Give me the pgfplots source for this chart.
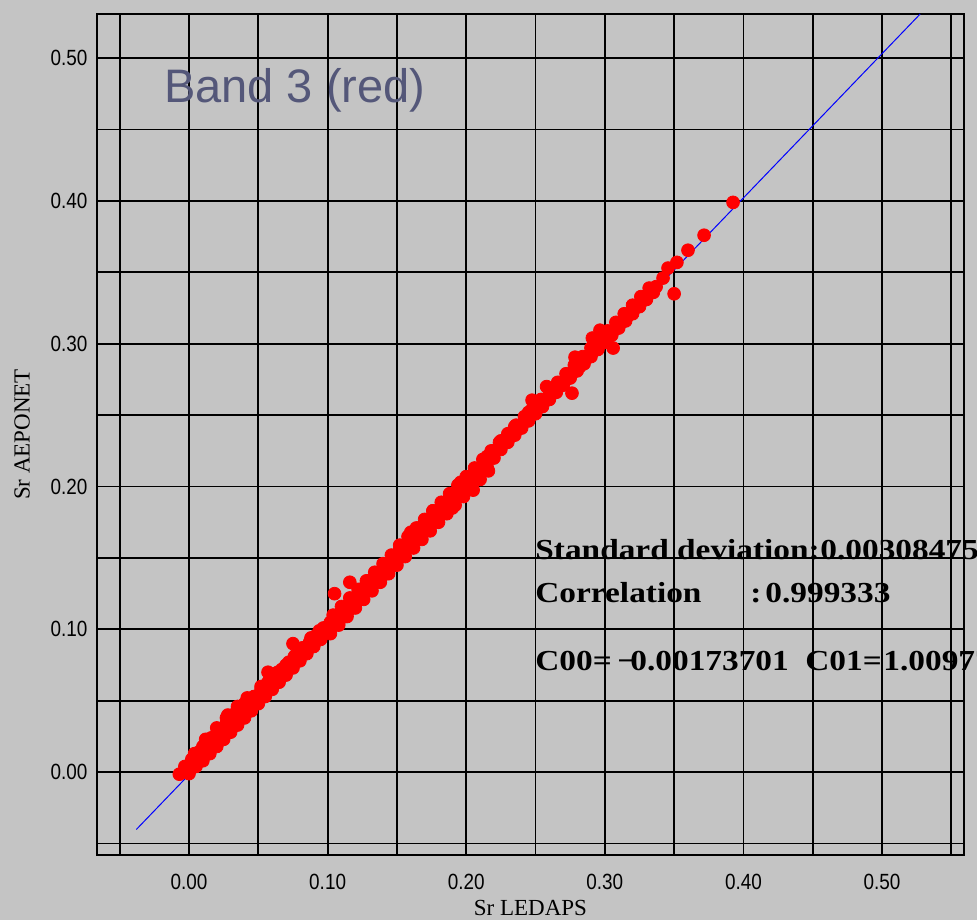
\documentclass[border=0pt]{standalone}
\usepackage{pgfplots}
\pgfplotsset{compat=1.18}
\usepackage{pgfplotstable}
\usepackage{graphicx}
\usepackage{fontspec}
\setmainfont{Liberation Sans}
\newfontfamily\serifb{Liberation Serif}
\definecolor{bg}{HTML}{C4C4C4}
\definecolor{bandcol}{HTML}{545779}

\pgfplotstableread{
x y
-0.007 -0.0014
-0.003 0.004
0.002 0.009
0.007 0.014
0.012 0.019
0.017 0.024
0.022 0.029
0.027 0.034
0.032 0.038
0.037 0.044
0.042 0.049
0.047 0.053
0.052 0.058
0.057 0.063
0.062 0.067
0.067 0.072
0.072 0.077
0.077 0.082
0.082 0.087
0.087 0.091
0.092 0.096
0.097 0.101
0.102 0.105
0.107 0.110
0.112 0.115
0.117 0.120
0.122 0.125
0.127 0.130
0.132 0.135
0.137 0.140
0.142 0.145
0.147 0.150
0.152 0.156
0.157 0.160
0.162 0.165
0.167 0.170
0.172 0.175
0.177 0.180
0.182 0.185
0.187 0.190
0.192 0.195
0.197 0.201
0.202 0.206
0.207 0.210
0.212 0.215
0.217 0.220
0.222 0.226
0.227 0.231
0.232 0.235
0.237 0.240
0.242 0.246
0.247 0.250
0.252 0.255
0.257 0.260
0.262 0.265
0.267 0.270
0.272 0.275
0.277 0.280
0.282 0.284
0.287 0.290
0.292 0.295
0.297 0.300
0.302 0.305
0.307 0.310
0.312 0.315
0.317 0.320
0.322 0.325
0.327 0.330
0.332 0.335
0.337 0.340
0.342 0.346
0.000 -0.001
0.005 0.004
0.010 0.008
0.015 0.013
0.020 0.018
0.025 0.023
0.030 0.028
0.035 0.033
0.040 0.038
0.045 0.043
0.050 0.048
0.055 0.053
0.060 0.058
0.065 0.063
0.070 0.068
0.075 0.073
0.080 0.078
0.085 0.083
0.090 0.088
0.095 0.093
0.100 0.098
0.105 0.103
0.110 0.108
0.115 0.113
0.120 0.118
0.125 0.123
0.130 0.128
0.135 0.133
0.140 0.138
0.145 0.143
0.150 0.148
0.155 0.153
0.160 0.159
0.165 0.164
0.170 0.169
0.175 0.174
0.180 0.179
0.185 0.184
0.190 0.189
0.195 0.194
0.200 0.199
0.205 0.204
0.210 0.209
0.215 0.214
0.220 0.220
0.225 0.226
0.230 0.231
0.235 0.236
0.240 0.241
0.245 0.246
0.250 0.251
0.255 0.256
0.260 0.261
0.265 0.266
0.270 0.271
0.275 0.276
0.280 0.281
0.285 0.286
0.290 0.291
0.295 0.296
0.300 0.301
0.305 0.306
0.310 0.311
0.315 0.316
0.320 0.321
0.325 0.326
0.330 0.331
0.335 0.336
0.004 0.013
0.010 0.018
0.016 0.024
0.022 0.030
0.028 0.036
0.034 0.042
0.040 0.048
0.046 0.052
0.052 0.060
0.058 0.064
0.064 0.070
0.070 0.075
0.076 0.081
0.082 0.087
0.088 0.094
0.094 0.099
0.012 0.023
0.020 0.031
0.027 0.038
0.035 0.046
0.042 0.052
0.102 0.097
0.108 0.103
0.114 0.109
0.120 0.115
0.126 0.121
0.132 0.127
0.138 0.133
0.144 0.139
0.150 0.145
0.156 0.151
0.162 0.157
0.168 0.163
0.174 0.169
0.180 0.175
0.186 0.181
0.192 0.187
0.198 0.193
0.204 0.199
0.210 0.205
0.216 0.211
0.104 0.110
0.110 0.116
0.116 0.122
0.122 0.128
0.128 0.134
0.134 0.140
0.140 0.146
0.146 0.152
0.152 0.159
0.158 0.165
0.164 0.171
0.170 0.177
0.176 0.183
0.182 0.189
0.188 0.195
0.194 0.201
0.200 0.207
0.206 0.213
0.212 0.219
0.218 0.225
0.224 0.231
0.230 0.237
0.236 0.243
0.242 0.249
0.248 0.255
0.254 0.261
0.260 0.267
0.266 0.273
0.272 0.279
0.278 0.285
0.284 0.291
0.290 0.297
0.296 0.303
0.302 0.309
0.308 0.315
0.314 0.321
0.320 0.327
0.326 0.333
0.332 0.339
0.160 0.168
0.168 0.172
0.176 0.183
0.196 0.203
0.215 0.221
0.225 0.232
0.235 0.242
0.245 0.252
0.3925 0.399
0.3716 0.376
0.360 0.3655
0.352 0.357
0.350 0.335
0.3456 0.353
0.306 0.297
0.2965 0.3095
0.291 0.304
0.2785 0.2906
0.2763 0.2654
0.258 0.270
0.2475 0.2605
0.205 0.1975
0.190 0.185
0.116 0.133
0.105 0.125
0.075 0.090
0.057 0.070
0.028 0.040
}\scatterdata

\begin{document}
\begin{tikzpicture}
\fill[bg] (-48.5pt,-32.5pt) rectangle (440pt,427.5pt);
\path[use as bounding box] (-48.5pt,-32.5pt) rectangle (440pt,427.5pt);
\begin{axis}[
  at={(0,0)}, anchor=south west,
  x=693pt, y=714pt,
  xmin=-0.0664, xmax=0.559,
  ymin=-0.058, ymax=0.531,
  clip=false,
  axis line style={black, line width=0.9pt},
  xtick={0,0.1,...,0.51},
  ytick={0,0.1,...,0.51},
  minor xtick={-0.05,0.05,0.15,0.25,0.35,0.45,0.55},
  minor ytick={-0.05,0.05,0.15,0.25,0.35,0.45},
  grid=both,
  major grid style={black, line width=0.9pt},
  minor grid style={black, line width=0.9pt},
  major tick length=0pt, minor tick length=0pt,
  /pgf/number format/assume math mode=true,
  /pgf/number format/fixed,
  /pgf/number format/fixed zerofill,
  /pgf/number format/precision=2,
  ticklabel style={font=\fontsize{11}{13}\selectfont, xscale=0.86},
  xticklabel style={yshift=-6pt},
  yticklabel style={xshift=-2pt},
  xlabel={\serifb\fontsize{11.5}{13}\selectfont Sr LEDAPS},
  ylabel={\serifb\fontsize{11.5}{13}\selectfont Sr AEPONET},
  xlabel style={at={(axis description cs:0.5,0)}, anchor=center, yshift=-26.5pt},
  ylabel style={at={(axis description cs:0,0.5)}, anchor=center, rotate=0, yshift=37.5pt},
]
\addplot[only marks, mark=*, mark size=3.2pt, color=red, mark options={draw=red, fill=red}] table[x=x, y=y] {\scatterdata};
\addplot[blue, line width=0.5pt] coordinates {(-0.038,-0.0401) (0.5275,0.5309)};
\end{axis}
\node[anchor=base west, text=bandcol, font=\fontsize{23.5}{26}\selectfont] at (30pt,376pt) {Band 3 (red)};
\begin{scope}[every node/.style={anchor=base west, inner sep=0pt, font=\serifb\bfseries\fontsize{14.5}{17}\selectfont}]
\node at (219pt,147.5pt) {\scalebox{1.15}[1]{Standard deviation:}};
\node at (361.5pt,147.5pt) {\scalebox{1.15}[1]{0.00308475}};
\node at (219pt,126.5pt) {\scalebox{1.15}[1]{Correlation}};
\node at (326.5pt,126.5pt) {\scalebox{1.15}[1]{:}};
\node at (334pt,126.5pt) {\scalebox{1.15}[1]{0.999333}};
\node at (219pt,92.5pt) {\scalebox{1.15}[1]{C00=}};
\node at (260pt,92.5pt) {\scalebox{1.15}[1]{−}};
\node at (266.5pt,92.5pt) {\scalebox{1.15}[1]{0.00173701}};
\node at (354pt,92.5pt) {\scalebox{1.15}[1]{C01=}};
\node at (393pt,92.5pt) {\scalebox{1.15}[1]{1.00977}};
\end{scope}
\end{tikzpicture}
\end{document}
